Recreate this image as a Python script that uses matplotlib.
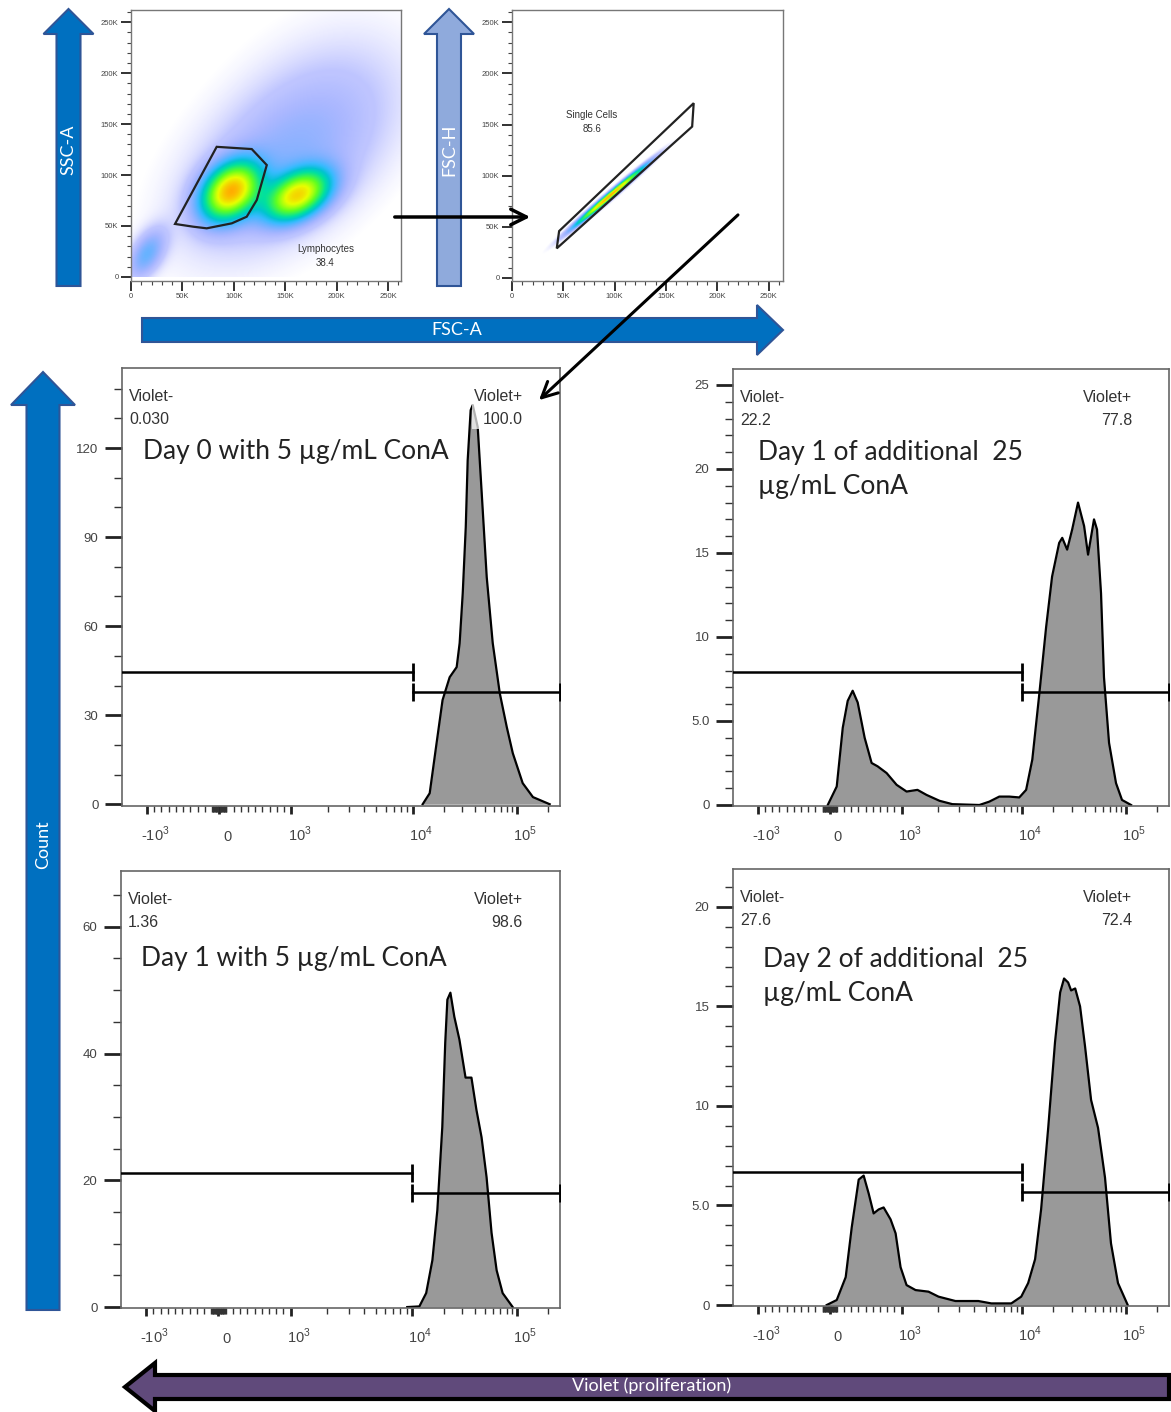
import numpy as np
import matplotlib
matplotlib.use('Agg')
import matplotlib.pyplot as plt
from matplotlib.patches import FancyArrow, Polygon
from matplotlib.colors import LinearSegmentedColormap
from matplotlib.ticker import MultipleLocator
from matplotlib.transforms import ScaledTranslation

# ---------------- data ----------------
# histograms: Violet intensity vs count
d0_x = [12.5e3, 14.6e3, 17.0e3, 19.4e3, 22.7e3, 26.5e3, 28.3e3, 30.3e3, 32.4e3, 33.8e3, 36.1e3,
        37.8e3, 42.2e3, 46.1e3, 51.5e3, 58.8e3, 68.7e3, 80.2e3, 91.6e3, 114e3, 143e3, 207e3]
d0_y = [0, 3.7, 20.6, 35.1, 42.8, 46.2, 54.3, 71.1, 93.4, 115.9, 132.8,
        134.5, 127.1, 104.8, 76.5, 54.3, 37.4, 26.0, 17.2, 7.1, 2.4, 0]

add1_x = [-28, 97, 181, 250, 319, 389, 486, 583, 667, 792, 931, 1100, 1355, 1610, 2062, 2636,
          4413, 5336, 6455, 7810, 9445, 10.9e3, 12.5e3, 14.6e3, 17.0e3, 19.4e3, 22.7e3, 24.3e3,
          27.1e3, 30.3e3, 34.5e3, 39.5e3, 43.1e3, 49.2e3, 52.6e3, 57.5e3, 61.4e3, 68.7e3,
          80.2e3, 91.6e3, 112e3]
add1_y = [0, 1.1, 4.6, 6.2, 6.8, 6.1, 4.0, 2.5, 2.3, 1.9, 1.2, 0.8, 0.9, 0.6, 0.25, 0.05,
          0, 0.2, 0.5, 0.5, 0.45, 0.9, 2.7, 6.6, 10.6, 13.6, 15.6, 15.9,
          15.2, 16.4, 18.0, 16.6, 14.9, 17.0, 16.4, 12.6, 7.6, 3.7,
          1.3, 0.3, 0]

d1_x = [9.1e3, 11.7e3, 13.6e3, 15.6e3, 17.4e3, 19.4e3, 20.7e3, 21.7e3, 23.2e3, 25.3e3, 28.3e3,
        32.4e3, 36.9e3, 41.2e3, 46.1e3, 51.5e3, 57.5e3, 64.3e3, 73.4e3, 91.6e3]
d1_y = [0, 0.1, 2.2, 7.4, 15.3, 28.4, 41.7, 48.5, 49.6, 45.8, 42.2,
        36.2, 36.2, 31.1, 26.8, 20.5, 11.7, 5.8, 2.2, 0]

add2_x = [-42, 97, 222, 306, 403, 472, 542, 611, 681, 750, 847, 917, 986, 1100, 1306, 1672,
          2023, 2794, 4329, 5545, 8114, 9811, 11.4e3, 13.3e3, 15.2e3, 17.8e3, 20.7e3, 23.2e3,
          25.3e3, 27.7e3, 29.6e3, 32.4e3, 36.1e3, 40.3e3, 46.1e3, 53.8e3, 62.8e3, 71.7e3,
          83.8e3, 104e3]
add2_y = [0, 0.25, 1.4, 3.9, 6.3, 6.5, 5.6, 4.6, 4.8, 4.9, 4.3, 3.6, 1.9, 1.0, 0.75, 0.67,
          0.42, 0.2, 0.2, 0.08, 0.08, 0.42, 1.1, 2.3, 4.8, 8.9, 13.2, 15.7,
          16.4, 16.2, 15.8, 15.9, 15.0, 13.0, 10.3, 8.9, 6.4, 3.1,
          1.1, 0]

titles = ['Day 0 with 5 µg/mL ConA', 'Day 1 of additional  25\nµg/mL ConA',
          'Day 1 with 5 µg/mL ConA', 'Day 2 of additional  25\nµg/mL ConA']
neg_pct = ['0.030', '22.2', '1.36', '27.6']
pos_pct = ['100.0', '77.8', '98.6', '72.4']
gate_split = 1e4
gate_neg_y = [44.5, 7.9, 21.2, 6.7]
gate_pos_y = [37.7, 6.7, 18.0, 5.7]

# scatter plots: population components (centre x, centre y, sd x, sd y, corr, weight), in K
fsc_ssc_comps = [(97, 84, 18, 18, 0.3, 0.30),
                 (162, 80, 20, 16, 0.4, 0.25),
                 (150, 115, 62, 58, 0.5, 0.40),
                 (15, 22, 12, 16, 0.5, 0.03),
                 (185, 180, 60, 60, 0.3, 0.07)]
fsc_fsch_comps = [(95, 80, 21, 18, 0.99, 1.0),
                  (100, 75, 18, 14, 0.7, 0.015)]
lymph_gate_x = [83.3, 117.4, 132, 122.3, 112.5, 98, 73.6, 60.6, 42.8]
lymph_gate_y = [127.7, 125.5, 109.8, 75.5, 59.1, 52.6, 47.7, 49.3, 52]
single_gate_x = [45.9, 177, 175.5, 43.6]
single_gate_y = [45.8, 170.9, 148, 28.9]

# ---------------- figure ----------------
W, H = 1171, 1412
fig = plt.figure(figsize=(W / 100, H / 100), dpi=100)
fig.patch.set_facecolor('white')
TXT = '#333333'
FLOW = 'Liberation Sans'
CAL = 'Lato'


def px_axes(l, t, r, b):
    return fig.add_axes([l / W, 1 - b / H, (r - l) / W, (b - t) / H])


# biexponential-like display used by the cytometry software
def biex_fwd(v):
    v = np.asarray(v, dtype=float)
    a = np.abs(v)
    lg = np.log10(np.maximum(a, 1000.0))
    out = np.where(a <= 1000, a / 1000.0 * 72.0,
                   np.where(lg <= 4, 72 + (lg - 3) * 121.0, 193 + (lg - 4) * 104.0))
    return np.sign(v) * out


def biex_inv(u):
    u = np.asarray(u, dtype=float)
    a = np.abs(u)
    out = np.where(a <= 72, a / 72.0 * 1000.0,
                   np.where(a <= 193, 10 ** (3 + (a - 72) / 121.0), 10 ** (4 + (np.minimum(a, 700) - 193) / 104.0)))
    return np.sign(u) * out


dens_cmap = LinearSegmentedColormap.from_list(
    'flow', ['#2020ff', '#2848ff', '#00a8ff', '#00e0a0', '#60ff20', '#e8ff00', '#ffb000', '#ff2000'])


def mixture(xx, yy, comps):
    d = np.zeros_like(xx)
    for cx, cy, sx, sy, rho, w in comps:
        u = (xx - cx) / sx
        v = (yy - cy) / sy
        q = (u * u - 2 * rho * u * v + v * v) / (1 - rho ** 2)
        d += w / (sx * sy * np.sqrt(1 - rho ** 2)) * np.exp(-0.5 * q)
    return d


def scatter_panel(ax, comps, gx, gy, label, lab_xy, xmax, ylo):
    g = np.linspace(0, 262, 240)
    xx, yy = np.meshgrid(g, g)
    d = mixture(xx, yy, comps)
    dn = d / d.max()
    rgba = dens_cmap(np.clip(dn ** 0.75 * 0.86, 0, 1))
    alpha = 0.3 * np.clip((dn - 0.006) / 0.05, 0, 1) + 0.7 * np.clip((dn - 0.06) / 0.25, 0, 1)
    rgba[..., 3] = alpha
    ax.imshow(rgba, extent=[0, 262e3, 0, 262e3], origin='lower', aspect='auto',
              interpolation='bilinear', zorder=1)
    ax.add_patch(Polygon(np.column_stack([np.array(gx) * 1e3, np.array(gy) * 1e3]),
                         closed=True, fill=False, ec='#222222', lw=1.6, zorder=3))
    ax.text(lab_xy[0] * 1e3, lab_xy[1] * 1e3, label, ha='center', va='center',
            fontsize=7, color=TXT, family=FLOW, linespacing=1.5, zorder=4)
    ax.set_xlim(0, xmax * 1e3)
    ax.set_ylim(ylo * 1e3, 262e3)
    ticks = np.arange(0, 250001, 50000)
    labs = ['0', '50K', '100K', '150K', '200K', '250K']
    ax.set_xticks(ticks, labs)
    ax.set_yticks(ticks, labs)
    ax.xaxis.set_minor_locator(MultipleLocator(10000))
    ax.yaxis.set_minor_locator(MultipleLocator(10000))
    ax.tick_params(which='major', length=7, width=1.3, labelsize=5.5, colors='#222222', pad=2)
    ax.tick_params(which='minor', length=3, width=0.8, colors='#444444')
    for lab in ax.get_xticklabels() + ax.get_yticklabels():
        lab.set_family(FLOW)
        lab.set_color('#444444')
    for s in ax.spines.values():
        s.set_color('#777777')
        s.set_linewidth(1.0)


ax_s1 = px_axes(131, 10, 401, 281)
scatter_panel(ax_s1, fsc_ssc_comps, lymph_gate_x, lymph_gate_y, 'Lymphocytes\n38.4', (189, 20.5), 262.5, -4)
ax_s2 = px_axes(512, 10, 783, 281)
scatter_panel(ax_s2, fsc_fsch_comps, single_gate_x, single_gate_y, 'Single Cells\n85.6', (78, 152), 264, -3)

# ---------------- histograms ----------------
hist_boxes = [(122, 368, 560, 806), (733, 369, 1169, 806), (121, 871, 560, 1308), (733, 869, 1169, 1306)]
hist_x = [d0_x, add1_x, d1_x, add2_x]
hist_y = [d0_y, add1_y, d1_y, add2_y]
ylims = [(-0.6, 147), (-0.06, 25.95), (-0.15, 68.8), (-0.05, 21.9)]
ymajor = [[0, 30, 60, 90, 120], [0, 5, 10, 15, 20, 25], [0, 20, 40, 60], [0, 5, 10, 15, 20]]
ymajor_lab = [['0', '30', '60', '90', '120'], ['0', '5.0', '10', '15', '20', '25'],
              ['0', '20', '40', '60'], ['0', '5.0', '10', '15', '20']]
yminor = [10, 1, 5, 1]
title_pos = [(0.048, 0.81), (0.057, 0.769), (0.046, 0.80), (0.069, 0.754)]

xmaj = [-1e3, 0, 1e3, 1e4, 1e5]
xmaj_lab = ['-10$^\\mathregular{3}$', '0', '10$^\\mathregular{3}$', '10$^\\mathregular{4}$', '10$^\\mathregular{5}$']
xmin = list(np.arange(-900, 0, 100)) + list(np.arange(-90, 0, 10)) + list(np.arange(10, 100, 10)) + \
    list(np.arange(100, 1000, 100)) + list(np.arange(2e3, 1e4, 1e3)) + list(np.arange(2e4, 1e5, 1e4)) + [2e5]

for i in range(4):
    l, t, r, b = hist_boxes[i]
    ax = px_axes(l, t, r, b)
    ax.set_xscale('function', functions=(biex_fwd, biex_inv))
    ax.set_xlim(-1610, 2.6e5)
    ax.set_ylim(*ylims[i])
    ax.fill_between(hist_x[i], hist_y[i], 0, color='#999999', lw=0, zorder=1)
    ax.plot(hist_x[i], hist_y[i], color='black', lw=1.6, zorder=2)
    # gates
    ax.plot([-1e5, gate_split], [gate_neg_y[i]] * 2, color='black', lw=1.8, marker='|',
            markersize=13, mew=2, zorder=3)
    ax.plot([gate_split, 2.6e5], [gate_pos_y[i]] * 2, color='black', lw=1.8, marker='|',
            markersize=13, mew=2, zorder=3)
    ax.text(0.016, 0.908, 'Violet-\n' + neg_pct[i], transform=ax.transAxes, ha='left', va='center',
            fontsize=11.5, color=TXT, family=FLOW, linespacing=1.65)
    ax.text(0.915, 0.908, 'Violet+\n' + pos_pct[i], transform=ax.transAxes, ha='right', va='center',
            fontsize=11.5, color=TXT, family=FLOW, linespacing=1.65, zorder=5,
            bbox=dict(facecolor='white', alpha=0.7, edgecolor='none', pad=1))
    ax.text(title_pos[i][0], title_pos[i][1], titles[i], transform=ax.transAxes, ha='left',
            va='center', fontsize=19, color='#222222', family=CAL, linespacing=1.45)
    ax.set_yticks(ymajor[i], ymajor_lab[i])
    ax.yaxis.set_minor_locator(MultipleLocator(yminor[i]))
    ax.set_xticks(xmaj, xmaj_lab)
    ax.set_xticks(xmin, minor=True)
    ax.tick_params(axis='y', which='major', length=12, width=2, labelsize=9.5, colors='#222222', pad=5)
    ax.tick_params(axis='y', which='minor', length=6, width=1, colors='#333333')
    ax.tick_params(axis='x', which='major', length=6, width=2, labelsize=10.5, colors='#222222', pad=19)
    ax.tick_params(axis='x', which='minor', length=4, width=1, colors='#333333')
    for lab in ax.get_xticklabels():
        lab.set_family(FLOW)
        lab.set_color('#444444')
        lab.set_verticalalignment('baseline')
        lab.set_transform(lab.get_transform() + ScaledTranslation(8 / 100, 0, fig.dpi_scale_trans))
    for lab in ax.get_yticklabels():
        lab.set_family(FLOW)
        lab.set_color('#444444')
    for s in ax.spines.values():
        s.set_color('#666666')
        s.set_linewidth(1.2)

# ---------------- overlay arrows ----------------
ov = fig.add_axes([0, 0, 1, 1], zorder=10)
ov.set_xlim(0, W)
ov.set_ylim(H, 0)
ov.axis('off')
ov.patch.set_alpha(0)

BLUE = '#0070C0'
EDGE = '#2F5597'
ov.add_patch(FancyArrow(68.5, 286, 0, -277, width=24, head_width=50, head_length=25,
                        length_includes_head=True, fc=BLUE, ec=EDGE, lw=1.5))
ov.text(68.5, 150, 'SSC-A', rotation=90, color='white', fontsize=13, family=CAL, ha='center', va='center')
ov.add_patch(FancyArrow(449, 286, 0, -277, width=24, head_width=50, head_length=25,
                        length_includes_head=True, fc='#8FAADC', ec=EDGE, lw=1.5))
ov.text(449, 150, 'FSC-H', rotation=90, color='white', fontsize=13, family=CAL, ha='center', va='center')
ov.add_patch(FancyArrow(142, 330, 641, 0, width=24, head_width=50, head_length=26,
                        length_includes_head=True, fc=BLUE, ec=EDGE, lw=1.5))
ov.text(457, 330, 'FSC-A', color='white', fontsize=13, family=CAL, ha='center', va='center')
ov.add_patch(FancyArrow(43, 1310, 0, -938, width=33, head_width=64, head_length=33,
                        length_includes_head=True, fc=BLUE, ec=EDGE, lw=1.5))
ov.text(43, 845, 'Count', rotation=90, color='white', fontsize=13, family=CAL, ha='center', va='center')
ov.add_patch(FancyArrow(1169, 1387, -1044, 0, width=24, head_width=48, head_length=30,
                        length_includes_head=True, fc='#604A7B', ec='black', lw=3))
ov.text(652, 1386, 'Violet (proliferation)', color='white', fontsize=13, family=CAL, ha='center', va='center')

ov.annotate('', xy=(533, 217), xytext=(392, 217),
            arrowprops=dict(arrowstyle='->', lw=2.5, color='black', mutation_scale=28))
ov.annotate('', xy=(537, 402), xytext=(740, 213),
            arrowprops=dict(arrowstyle='->', lw=2.2, color='black', mutation_scale=28))

fig.savefig('out.png', dpi=100, facecolor='white')
